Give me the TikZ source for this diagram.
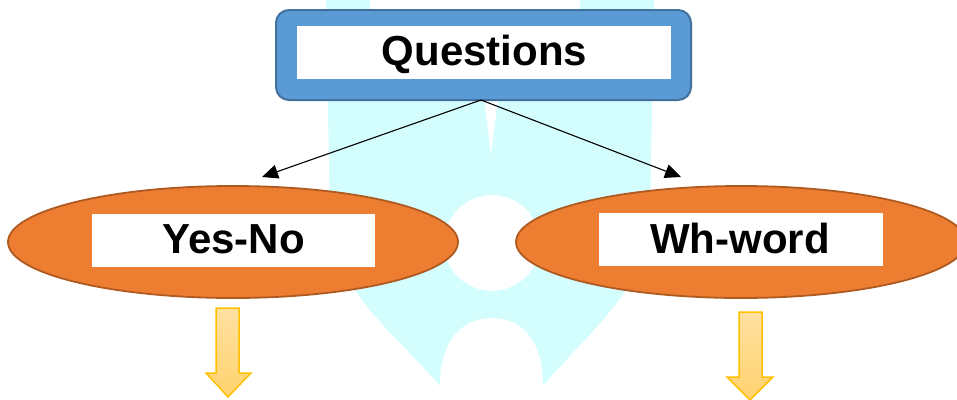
\documentclass[tikz,border=0pt]{standalone}
\usepackage{fontspec}
\setmainfont{Liberation Sans}
\usetikzlibrary{shapes.geometric,arrows.meta}
\definecolor{wmcyan}{RGB}{212,253,253}
\definecolor{boxblue}{RGB}{91,155,213}
\definecolor{boxblueedge}{RGB}{65,113,156}
\definecolor{ovalorange}{RGB}{237,125,49}
\definecolor{ovaledge}{RGB}{174,90,33}
\definecolor{ylwtop}{RGB}{255,224,160}
\definecolor{ylwbot}{RGB}{255,210,110}
\definecolor{ylwedge}{RGB}{255,192,0}
\tikzset{
  labeltext/.style={font=\fontsize{42}{50}\selectfont\bfseries, inner sep=0pt, anchor=base},
  whitebar/.style={fill=white, draw=none},
  ovalnode/.style={ellipse, fill=ovalorange, draw=ovaledge, line width=1.8pt,
    minimum width=450pt, minimum height=112pt, inner sep=0pt},
  linkarrow/.style={line width=1.1pt, -{Triangle[length=16pt,width=14pt]}},
  blockarrow/.style={top color=ylwtop, bottom color=ylwbot, draw=ylwedge, line width=1.5pt, line join=miter}
}
\begin{document}
\begin{tikzpicture}[x=1pt,y=-1pt]
\useasboundingbox (0,0) rectangle (957,399);
% watermark
\fill[wmcyan, even odd rule]
  (326,0) -- (370,0) -- (370,12) -- (580,12) -- (580,0) -- (654,0)
  -- (650,220) .. controls (646,290) and (590,330) .. (543,386)
  .. controls (543,340) and (522,318) .. (492,318)
  .. controls (462,318) and (440,340) .. (440,386)
  .. controls (392,330) and (334,290) .. (330,220) -- cycle
  (492,243) circle (48);
\fill[white] (484,100) .. controls (487,120) and (489,140) .. (491,155)
  .. controls (493,140) and (495,120) .. (498,100) -- cycle;
% top box
\node[draw=boxblueedge, fill=boxblue, line width=2pt, rounded corners=13pt,
  minimum width=415pt, minimum height=90pt, inner sep=0pt] (q) at (483.5,55) {};
\node[whitebar, minimum width=374pt, minimum height=53pt, inner sep=0pt] (qbar) at (484,52.5) {};
\node[labeltext] (qt) at (484.5,65) {Questions};
% ovals
\node[ovalnode] (yn) at (233,242) {};
\node[ovalnode] (wh) at (741,242) {};
\node[whitebar, minimum width=283pt, minimum height=53pt, inner sep=0pt] (ynbar) at (233.5,240.5) {};
\node[whitebar, minimum width=284pt, minimum height=53pt, inner sep=0pt] (whbar) at (741,239.5) {};
\node[labeltext] (ynt) at (233.5,253) {Yes-No};
\node[labeltext] (wht) at (740,253) {Wh-word};
% connectors
\coordinate (qs) at (481,100);
\coordinate (yntip) at (262,177);
\coordinate (whtip) at (681,177);
\draw[linkarrow] (qs) -- (yntip);
\draw[linkarrow] (qs) -- (whtip);
% block arrows
\path[blockarrow] (216,308) -- (239,308) -- (239,373) -- (251,373) -- (228,397)
  -- (206,373) -- (216,373) -- cycle;
\path[blockarrow] (739,312) -- (762,312) -- (762,377) -- (773,377) -- (750,400)
  -- (727,377) -- (739,377) -- cycle;
\end{tikzpicture}
\end{document}
